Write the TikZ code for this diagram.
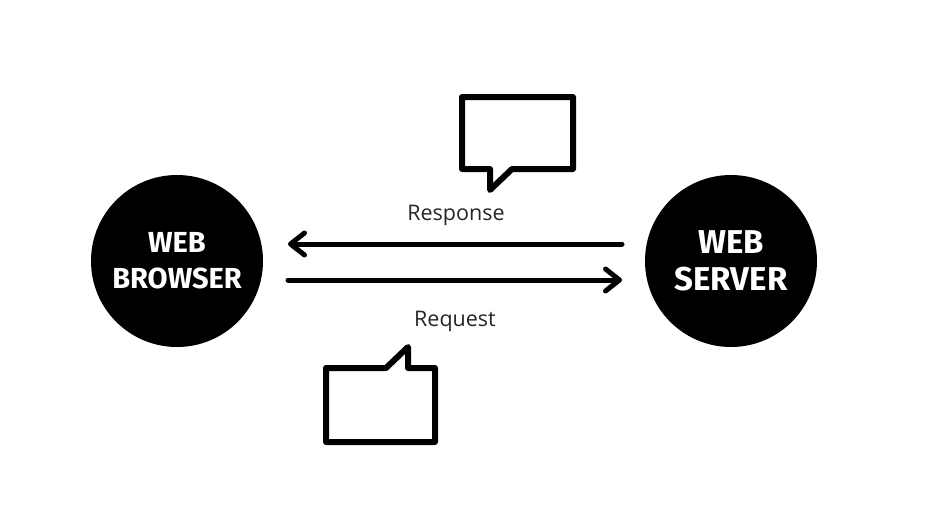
\documentclass[tikz,border=0pt]{standalone}
\usepackage{fontspec}
\setmainfont{Open Sans}
\newfontfamily\circfont{Fira Sans}
\usetikzlibrary{arrows.meta}
\begin{document}
\begin{tikzpicture}[x=1pt,y=-1pt,
  circ/.style={circle,fill=black,minimum size=172pt,inner sep=0pt,text=white,align=center,font=\circfont\bfseries},
  bubble/.style={draw=black,line width=6pt,line join=round,fill=white},
  conn/.style={line width=5pt,line cap=round,-{Straight Barb[length=14pt,width=22pt,line cap=round,line join=round]}},
  lbl/.style={anchor=base,font=\fontsize{21.5}{26}\selectfont,text=black!85}
]
\useasboundingbox (0,0) rectangle (931,514);
\node[circ,font=\circfont\bfseries\fontsize{29}{36}\selectfont] (browser) at (177,261) {WEB\\BROWSER};
\node[circ,font=\circfont\bfseries\fontsize{33}{37}\selectfont] (server) at (731,261) {WEB\\SERVER};
\coordinate (resA) at (622,244);
\coordinate (resB) at (288,244);
\coordinate (reqA) at (288,280);
\coordinate (reqB) at (622,280);
\draw[conn] (resA) -- (resB);
\draw[conn] (reqA) -- (reqB);
\node[lbl] (response) at (456,220) {Response};
\node[lbl] (request) at (455,326) {Request};
\draw[bubble] (462,97) -- (573,97) -- (573,169) -- (512,169) -- (490,190) -- (490,169) -- (462,169) -- cycle;
\draw[bubble] (326,368) -- (386,368) -- (408,347) -- (408,368) -- (435,368) -- (435,442) -- (326,442) -- cycle;
\end{tikzpicture}
\end{document}
